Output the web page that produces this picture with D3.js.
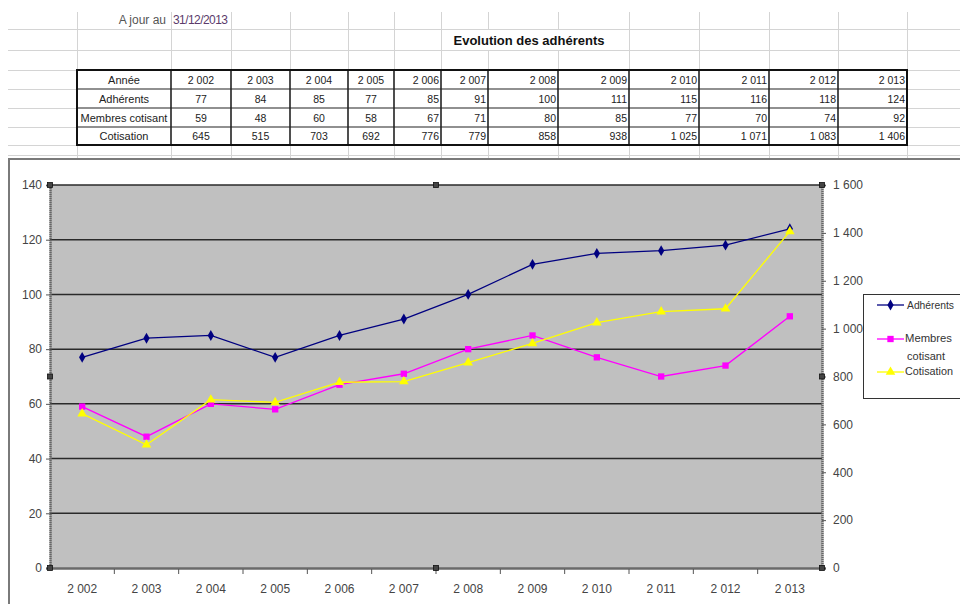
<!DOCTYPE html>
<html>
<head>
<meta charset="utf-8">
<script src="https://cdn.jsdelivr.net/npm/d3@7/dist/d3.min.js"></script>
<style>
  html, body { margin: 0; padding: 0; background: #fff; }
  svg { display: block; font-family: "Liberation Sans", Arial, sans-serif; }
</style>
</head>
<body>
<svg id="sheet" width="960" height="604"></svg>
<script>
// ---- data ----
const years = [2002, 2003, 2004, 2005, 2006, 2007, 2008, 2009, 2010, 2011, 2012, 2013];
const adherents = [77, 84, 85, 77, 85, 91, 100, 111, 115, 116, 118, 124];
const membresCotisant = [59, 48, 60, 58, 67, 71, 80, 85, 77, 70, 74, 92];
const cotisation = [645, 515, 703, 692, 776, 779, 858, 938, 1025, 1071, 1083, 1406];
const rowLabels = ["Année", "Adhérents", "Membres cotisant", "Cotisation"];
const leftTicks = [0, 20, 40, 60, 80, 100, 120, 140];
const rightTicks = [0, 200, 400, 600, 800, 1000, 1200, 1400, 1600];
const updateLabel = "A jour au";
const updateDate = "31/12/2013";
const title = "Evolution des adhérents";

// French number format: "1 406", "2 002"
const fr = d3.formatLocale({ decimal: ",", thousands: " ", grouping: [3], currency: ["", " €"] });
const fmt = fr.format(",d");

const svg = d3.select("#sheet");

// ---- spreadsheet grid ----
const colEdges = [77, 171, 231, 290, 348, 394, 441, 488, 558, 629, 699, 769, 838, 907];
const gridRows = [29, 50, 70, 89, 108, 127, 145, 155];
const grid = svg.append("g").attr("stroke", "#d4d4d4").attr("stroke-width", 1);
gridRows.forEach(y => grid.append("line").attr("x1", 8).attr("x2", 960).attr("y1", y + 0.5).attr("y2", y + 0.5));
colEdges.forEach(x => grid.append("line").attr("x1", x + 0.5).attr("x2", x + 0.5).attr("y1", 12).attr("y2", 158));

// merged title cell
svg.append("rect").attr("x", 442).attr("y", 30).attr("width", 186).attr("height", 20).attr("fill", "#fff");

svg.append("text").attr("x", 166).attr("y", 24).attr("text-anchor", "end")
  .attr("font-size", 12).attr("fill", "#555").text(updateLabel);
svg.append("text").attr("x", 173).attr("y", 24)
  .attr("font-size", 12).attr("fill", "#5b3b6b").attr("textLength", 55).text(updateDate);
svg.append("text").attr("x", 529).attr("y", 45).attr("text-anchor", "middle")
  .attr("font-size", 13).attr("font-weight", "bold").attr("fill", "#111").text(title);

// ---- data table ----
const rowEdges = [70, 89, 108, 127, 145];
const tableRows = [years, adherents, membresCotisant, cotisation];
const table = svg.append("g");
table.append("rect").attr("x", colEdges[0]).attr("y", rowEdges[0])
  .attr("width", colEdges[colEdges.length - 1] - colEdges[0])
  .attr("height", rowEdges[rowEdges.length - 1] - rowEdges[0])
  .attr("fill", "#fff");
rowEdges.slice(1, -1).forEach(y => table.append("line")
  .attr("x1", colEdges[0]).attr("x2", colEdges[colEdges.length - 1])
  .attr("y1", y).attr("y2", y).attr("stroke", "#222").attr("stroke-width", 1.2));
colEdges.slice(1, -1).forEach(x => table.append("line")
  .attr("x1", x).attr("x2", x).attr("y1", rowEdges[0]).attr("y2", rowEdges[rowEdges.length - 1])
  .attr("stroke", "#222").attr("stroke-width", 1.6));
table.append("rect").attr("x", colEdges[0]).attr("y", rowEdges[0])
  .attr("width", colEdges[colEdges.length - 1] - colEdges[0])
  .attr("height", rowEdges[rowEdges.length - 1] - rowEdges[0])
  .attr("fill", "none").attr("stroke", "#111").attr("stroke-width", 2);

tableRows.forEach((vals, r) => {
  const yMid = (rowEdges[r] + rowEdges[r + 1]) / 2 + 4;
  table.append("text").attr("x", (colEdges[0] + colEdges[1]) / 2).attr("y", yMid)
    .attr("text-anchor", "middle").attr("font-size", 11).attr("fill", "#222").text(rowLabels[r]);
  vals.forEach((v, i) => {
    const x0 = colEdges[i + 1], x1 = colEdges[i + 2];
    const centred = i < 4;
    table.append("text")
      .attr("x", centred ? (x0 + x1) / 2 : x1 - 2)
      .attr("y", yMid)
      .attr("text-anchor", centred ? "middle" : "end")
      .attr("font-size", 10.5).attr("fill", "#222")
      .text(fmt(v));
  });
});

// ---- chart object ----
svg.append("rect").attr("x", 9).attr("y", 159).attr("width", 960).attr("height", 460)
  .attr("fill", "#fff").attr("stroke", "#7a7a7a").attr("stroke-width", 2);

const plot = { left: 50, right: 822, top: 185, bottom: 568 };
const x = d3.scaleBand().domain(years).range([plot.left, plot.right]).padding(0);
const yL = d3.scaleLinear().domain([0, 140]).range([plot.bottom, plot.top]);
const yR = d3.scaleLinear().domain([0, 1600]).range([plot.bottom, plot.top]);

svg.append("rect").attr("x", plot.left).attr("y", plot.top)
  .attr("width", plot.right - plot.left).attr("height", plot.bottom - plot.top)
  .attr("fill", "#c0c0c0");

// horizontal gridlines on the primary axis
svg.append("g").selectAll("line").data(leftTicks.filter(d => d > 0)).join("line")
  .attr("x1", plot.left).attr("x2", plot.right)
  .attr("y1", d => yL(d)).attr("y2", d => yL(d))
  .attr("stroke", "#2a2a2a").attr("stroke-width", 1.5);

// axes
const axisStyle = g => {
  g.selectAll("text").attr("font-size", 12).attr("fill", "#444")
    .attr("font-family", "'Liberation Sans', Arial, sans-serif");
  g.selectAll(".tick line").attr("stroke", "#555");
};

const leftAxis = svg.append("g").attr("transform", `translate(${plot.left},0)`)
  .call(d3.axisLeft(yL).tickValues(leftTicks).tickSize(4).tickPadding(4).tickFormat(d3.format("d")))
  .call(axisStyle);
leftAxis.select(".domain").attr("stroke", "#666").attr("stroke-width", 2.5).attr("stroke-dasharray", "1.5,0.5");

const rightAxis = svg.append("g").attr("transform", `translate(${plot.right},0)`)
  .call(d3.axisRight(yR).tickValues(rightTicks).tickSize(4).tickPadding(7).tickFormat(fmt))
  .call(axisStyle);
rightAxis.select(".domain").attr("stroke", "#666").attr("stroke-width", 2.5).attr("stroke-dasharray", "1.5,0.5");

const bottomAxis = svg.append("g").attr("transform", `translate(0,${plot.bottom})`)
  .call(d3.axisBottom(x).tickSize(0).tickPadding(16).tickFormat(fmt))
  .call(axisStyle);
bottomAxis.select(".domain").attr("stroke", "#6a6a6a").attr("stroke-width", 2.5);
// category separators below the axis
bottomAxis.append("g").selectAll("line").data(years.slice(1)).join("line")
  .attr("x1", d => x(d)).attr("x2", d => x(d)).attr("y1", 1).attr("y2", 6)
  .attr("stroke", "#555").attr("stroke-width", 1);

// ---- series ----
const series = [
  { name: "Adhérents", values: adherents, scale: yL, color: "#000080", symbol: d3.symbolDiamond, size: 34 },
  { name: "Membres cotisant", values: membresCotisant, scale: yL, color: "#ff00ff", symbol: d3.symbolSquare, size: 40 },
  { name: "Cotisation", values: cotisation, scale: yR, color: "#ffff00", symbol: d3.symbolTriangle, size: 40 }
];

series.forEach(s => {
  const line = d3.line().x((d, i) => x(years[i]) + x.bandwidth() / 2).y(d => s.scale(d));
  svg.append("path").datum(s.values).attr("d", line)
    .attr("fill", "none").attr("stroke", s.color).attr("stroke-width", 1.3);
  svg.append("g").selectAll("path").data(s.values).join("path")
    .attr("transform", (d, i) => `translate(${x(years[i]) + x.bandwidth() / 2},${s.scale(d)})`)
    .attr("d", d3.symbol().type(s.symbol).size(s.size))
    .attr("fill", s.color);
});

// selection handles of the plot area
const midX = (plot.left + plot.right) / 2, midY = (plot.top + plot.bottom) / 2;
const handles = [
  [plot.left, plot.top], [midX, plot.top], [plot.right, plot.top],
  [plot.left, midY], [plot.right, midY],
  [plot.left, plot.bottom], [midX, plot.bottom], [plot.right, plot.bottom]
];
svg.append("g").selectAll("rect").data(handles).join("rect")
  .attr("x", d => d[0] - 2.5).attr("y", d => d[1] - 2.5)
  .attr("width", 5).attr("height", 5)
  .attr("fill", "#444").attr("stroke", "#111").attr("stroke-width", 0.8);

// ---- legend ----
const legend = svg.append("g");
legend.append("rect").attr("x", 863.5).attr("y", 294.5).attr("width", 120).attr("height", 104)
  .attr("fill", "#fff").attr("stroke", "#333").attr("stroke-width", 1);
const legendRows = [
  { s: series[0], y: 305, lines: [{ t: "Adhérents", x: 907, y: 309, w: 47 }] },
  { s: series[1], y: 339, lines: [{ t: "Membres", x: 905, y: 342, w: 47 }, { t: "cotisant", x: 907, y: 360, w: 38 }] },
  { s: series[2], y: 372, lines: [{ t: "Cotisation", x: 905, y: 375, w: 48 }] }
];
legendRows.forEach(r => {
  legend.append("line").attr("x1", 877).attr("x2", 904).attr("y1", r.y).attr("y2", r.y)
    .attr("stroke", r.s.color).attr("stroke-width", 1.3);
  legend.append("path").attr("transform", `translate(890.5,${r.y})`)
    .attr("d", d3.symbol().type(r.s.symbol).size(r.s.size)).attr("fill", r.s.color);
  r.lines.forEach(l => {
    legend.append("text").attr("x", l.x).attr("y", l.y)
      .attr("font-size", 11.5).attr("fill", "#333")
      .attr("textLength", l.w).attr("lengthAdjust", "spacingAndGlyphs")
      .text(l.t);
  });
});
</script>
</body>
</html>
